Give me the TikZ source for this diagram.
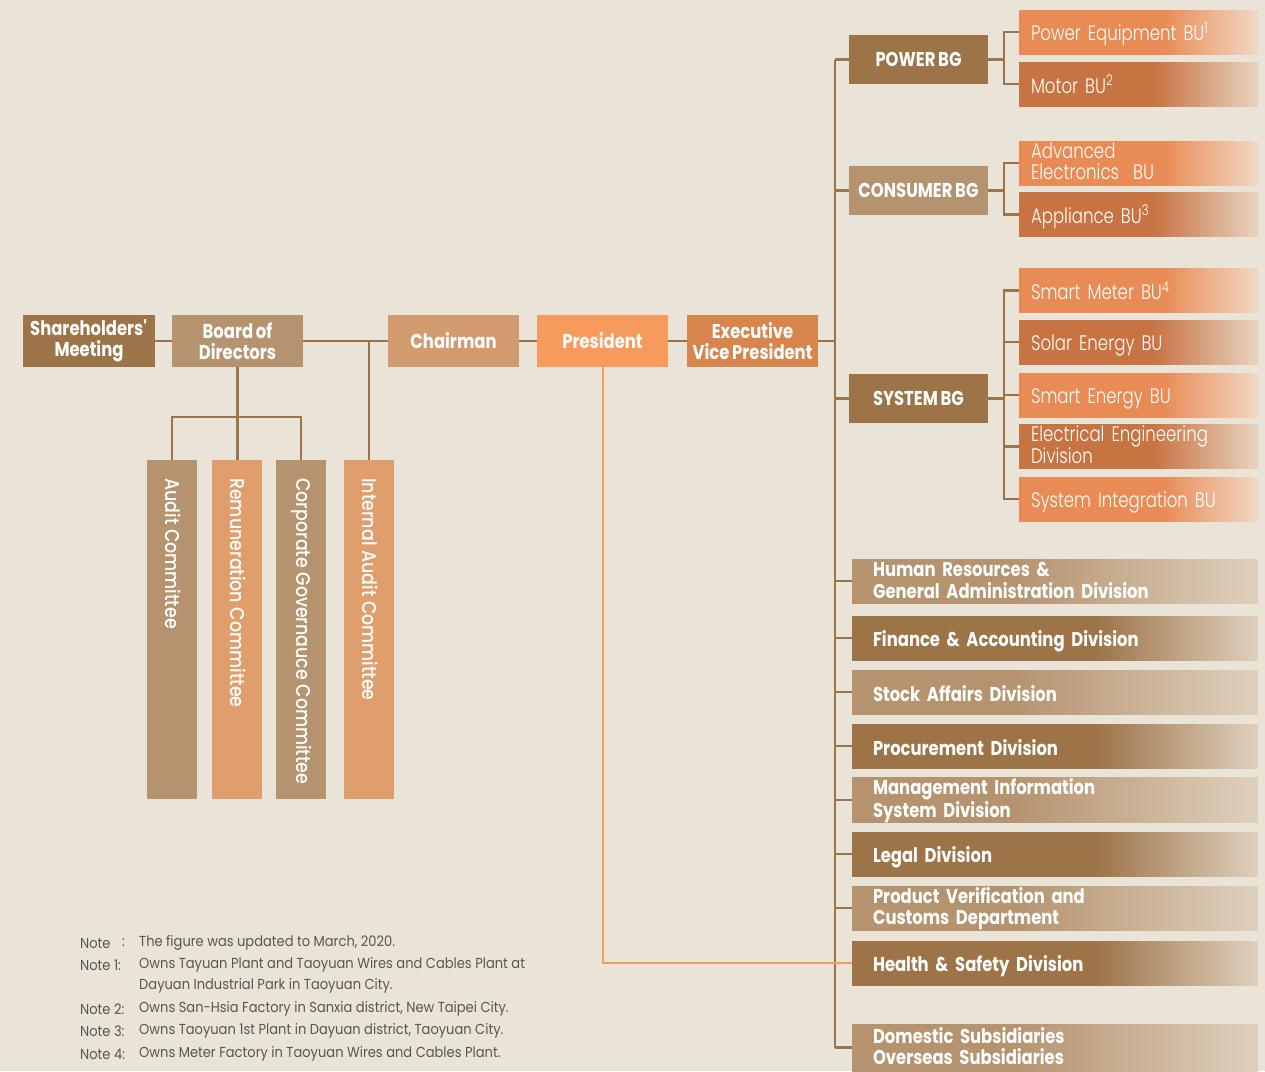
\documentclass[tikz,border=0pt]{standalone}
\usepackage{fontspec}
\setmainfont{Poppins}[FakeStretch=0.82,WordSpace=0.8]
\newfontfamily\lightf{Poppins Light}[FakeStretch=0.79]
\newfontfamily\medf{Poppins Medium}[FakeStretch=0.87]
\newfontfamily\notef{Poppins}[FakeStretch=0.9]
\newcommand\myTopStrut{\rule{0pt}{17pt}}
\newcommand\myTallStrut{\rule{0pt}{23pt}}
\newcommand\myBotStrut{\rule[-4.5pt]{0pt}{0pt}}
\definecolor{bg}{HTML}{EAE3D8}
\definecolor{dbrown}{HTML}{9C7448}
\definecolor{tanc}{HTML}{B5936F}
\definecolor{chairc}{HTML}{D29B6F}
\definecolor{presc}{HTML}{F79B5C}
\definecolor{evpc}{HTML}{D7854D}
\definecolor{lor}{HTML}{E98B55}
\definecolor{dor}{HTML}{C87342}
\definecolor{comor}{HTML}{E19E6D}
\definecolor{lorEnd}{HTML}{F0D8C4}
\definecolor{dorEnd}{HTML}{E8D3BF}
\definecolor{divEnd}{HTML}{DFD0BD}
\definecolor{notec}{HTML}{5A5550}
\pgfdeclarehorizontalshading{buL}{100bp}{color(0bp)=(lor); color(25bp)=(lor); color(55bp)=(lor); color(75bp)=(lorEnd); color(100bp)=(lorEnd)}
\pgfdeclarehorizontalshading{buD}{100bp}{color(0bp)=(dor); color(25bp)=(dor); color(53bp)=(dor); color(75bp)=(dorEnd); color(100bp)=(dorEnd)}
\pgfdeclarehorizontalshading{dvL}{100bp}{color(0bp)=(tanc); color(25bp)=(tanc); color(45bp)=(tanc); color(75bp)=(divEnd); color(100bp)=(divEnd)}
\pgfdeclarehorizontalshading{dvD}{100bp}{color(0bp)=(dbrown); color(25bp)=(dbrown); color(55bp)=(dbrown); color(75bp)=(divEnd); color(100bp)=(divEnd)}
\tikzset{
  ln/.style={draw=dbrown, line width=2.6pt, line join=miter},
  oln/.style={draw=presc, line width=2pt},
  topbox/.style={inner sep=0pt, minimum width=131pt, minimum height=52pt, align=center, text=white,
    font=\bfseries\fontsize{20}{21}\selectfont},
  bgbox/.style={inner sep=0pt, minimum width=139pt, minimum height=49pt, align=center, text=white,
    font=\bfseries\fontsize{20}{21}\selectfont},
  bubox/.style={inner xsep=12pt, inner ysep=0pt, text width=215pt, minimum height=44pt, align=left, text=white,
    font=\lightf\fontsize{21}{21}\selectfont,
    execute at begin node=\myTopStrut, execute at end node=\myBotStrut},
  divbox/.style={inner xsep=21pt, inner ysep=0pt, text width=364pt, minimum height=44pt, align=left, text=white,
    font=\bfseries\fontsize{20}{21.5}\selectfont,
    execute at begin node=\myTopStrut, execute at end node=\myBotStrut},
  oneline/.style={execute at begin node=\myTallStrut},
  commbox/.style={inner sep=0pt, minimum width=50pt, minimum height=339pt},
  commtext/.style={inner sep=0pt, anchor=west, rotate=-90, text=white, font=\medf\fontsize{20}{21}\selectfont},
  notetext/.style={inner sep=0pt, anchor=west, text=notec, font=\notef\fontsize{14.5}{15}\selectfont}
}
\begin{document}
\begin{tikzpicture}[x=1pt,y=-1pt]
\useasboundingbox (0,0) rectangle (1265,1071);
\fill[bg] (0,0) rectangle (1265,1071);
\coordinate (trunk) at (835,0);
\coordinate (brk) at (1004,0);
% top row
\node[topbox, fill=dbrown, minimum width=132pt] (share) at (89,341) {Shareholders\textquotesingle\\Meeting};
\node[topbox, fill=tanc] (board) at (237.5,341) {Board of\\Directors};
\node[topbox, fill=chairc] (chair) at (453.5,341) {Chairman};
\node[topbox, fill=presc] (pres) at (602.5,341) {President};
\node[topbox, fill=evpc] (evp) at (752.5,341) {Executive\\Vice President};
% committees
\node[commbox, fill=tanc] (audit) at (172,629.5) {};
\node[commbox, fill=comor] (rem) at (237,629.5) {};
\node[commbox, fill=tanc] (corp) at (301,629.5) {};
\node[commbox, fill=comor] (ia) at (369,629.5) {};
\node[commtext] (auditT) at (173,478) {Audit Committee};
\node[commtext] (remT) at (238,478) {Remuneration Committee};
\node[commtext] (corpT) at (302,478) {Corporate Governauce Committee};
\node[commtext] (iaT) at (370,478) {Internal Audit Committee};
% BGs
\node[bgbox, fill=dbrown] (power) at (918.5,59.5) {POWER BG};
\node[bgbox, fill=tanc] (consumer) at (918.5,190.5) {CONSUMER BG};
\node[bgbox, fill=dbrown] (system) at (918.5,398.5) {SYSTEM BG};
% BUs
\node[bubox, oneline, shading=buL] (pe) at (1138.5,32) {Power Equipment BU\textsuperscript{1}};
\node[bubox, oneline, shading=buD] (motor) at (1138.5,84) {Motor BU\textsuperscript{2}};
\node[bubox, shading=buL] (adv) at (1138.5,163) {Advanced\\Electronics\ \ BU};
\node[bubox, oneline, shading=buD] (app) at (1138.5,214.5) {Appliance BU\textsuperscript{3}};
\node[bubox, oneline, shading=buL] (sm) at (1138.5,290.5) {Smart Meter BU\textsuperscript{4}};
\node[bubox, oneline, shading=buD] (solar) at (1138.5,342) {Solar Energy BU};
\node[bubox, oneline, shading=buL] (se) at (1138.5,395) {Smart Energy BU};
\node[bubox, shading=buD] (ee) at (1138.5,446.5) {Electrical Engineering\\Division};
\node[bubox, oneline, shading=buL] (si) at (1138.5,499) {System Integration BU};
% divisions
\node[divbox, shading=dvL] (hr) at (1055,581) {Human Resources \&\\General Administration Division};
\node[divbox, oneline, shading=dvD] (fin) at (1055,638) {Finance \& Accounting Division};
\node[divbox, oneline, shading=dvL] (stock) at (1055,692) {Stock Affairs Division};
\node[divbox, oneline, shading=dvD] (proc) at (1055,746) {Procurement Division};
\node[divbox, shading=dvL] (mis) at (1055,800) {Management Information\\System Division};
\node[divbox, oneline, shading=dvD] (legal) at (1055,854) {Legal Division};
\node[divbox, shading=dvL] (pv) at (1055,908) {Product Verification and\\Customs Department};
\node[divbox, oneline, shading=dvD] (hs) at (1055,963) {Health \& Safety Division};
\node[divbox, shading=dvL, minimum height=47pt] (subs) at (1055,1047.5) {Domestic Subsidiaries\\Overseas Subsidiaries};
% connectors: top row
\draw[ln] (share.east) -- (board.west);
\draw[ln] (board.east) -- (chair.west);
\draw[ln] (chair.east) -- (pres.west);
\draw[ln] (pres.east) -- (evp.west);
\draw[ln] (evp.east) -- (evp.east -| trunk);
\draw[ln] (ia.north) -- (ia.north |- chair.west);
\draw[ln] (board.south) -- (board.south |- rem.north);
\draw[ln] (audit.north) -- ++(0,-43) -| (corp.north);
% trunk
\draw[ln] (power.west -| trunk) -- (subs.west -| trunk);
\foreach \n in {power,consumer,system,hr,fin,stock,proc,mis,legal,pv,hs,subs}
  \draw[ln] (\n.west -| trunk) -- (\n.west);
% brackets
\draw[ln] (power.east) -- (power.east -| brk);
\draw[ln] (pe.west) -- (pe.west -| brk) -- (motor.west -| brk) -- (motor.west);
\draw[ln] (consumer.east) -- (consumer.east -| brk);
\draw[ln] (adv.west) -- (adv.west -| brk) -- (app.west -| brk) -- (app.west);
\draw[ln] (system.east) -- (system.east -| brk);
\draw[ln] (sm.west) -- (sm.west -| brk) -- (si.west -| brk) -- (si.west);
\foreach \n in {solar,se,ee}
  \draw[ln] (\n.west -| brk) -- (\n.west);
% president line
\draw[oln] (pres.south) |- (hs.west);
% notes
\node[notetext] (n0a) at (80,943) {Note};
\node[notetext] (n0b) at (122,943) {:};
\node[notetext] (n0c) at (139,943) {The figure was updated to March, 2020.};
\node[notetext] (n1a) at (80,965) {Note 1:};
\node[notetext] (n1b) at (139,965) {Owns Tayuan Plant and Taoyuan Wires and Cables Plant at};
\node[notetext] (n1c) at (139,986) {Dayuan Industrial Park in Taoyuan City.};
\node[notetext] (n2a) at (80,1009) {Note 2:};
\node[notetext] (n2b) at (139,1009) {Owns San-Hsia Factory in Sanxia district, New Taipei City.};
\node[notetext] (n3a) at (80,1031) {Note 3:};
\node[notetext] (n3b) at (139,1031) {Owns Taoyuan 1st Plant in Dayuan district, Taoyuan City.};
\node[notetext] (n4a) at (80,1054) {Note 4:};
\node[notetext] (n4b) at (139,1054) {Owns Meter Factory in Taoyuan Wires and Cables Plant.};
\end{tikzpicture}
\end{document}
